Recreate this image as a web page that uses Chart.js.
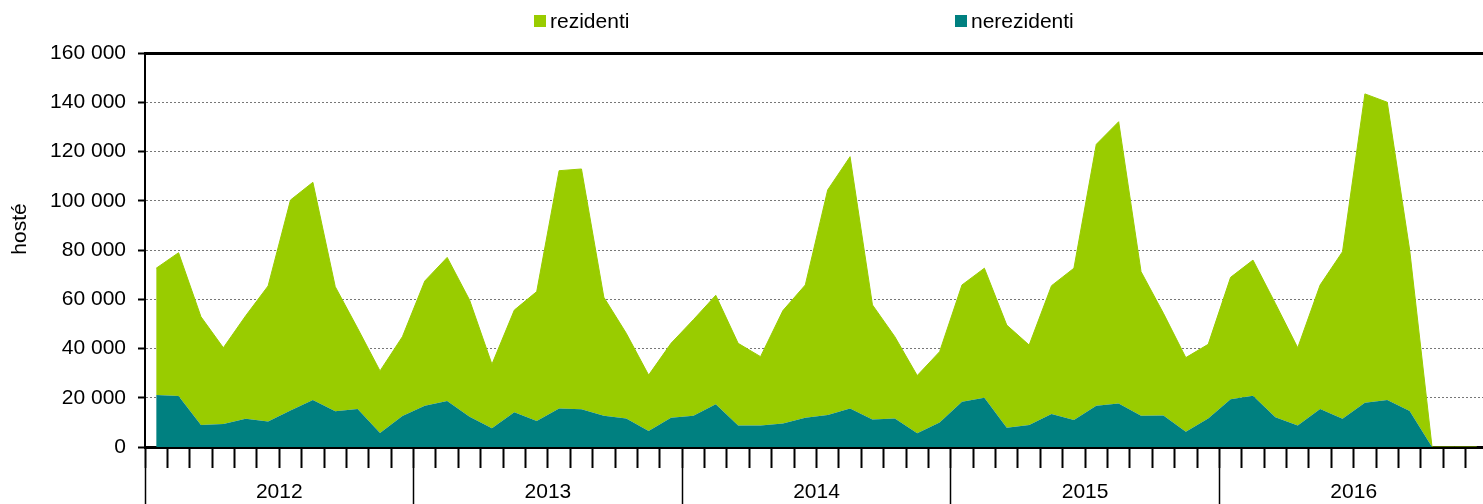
<!DOCTYPE html>
<html>
<head>
<meta charset="utf-8">
<script src="https://cdn.jsdelivr.net/npm/chart.js"></script>
<style>
  html, body { margin: 0; padding: 0; overflow: hidden; background: #fff; }
  #wrap { width: 1488px; height: 504px; }
</style>
</head>
<body>
<div id="wrap"><canvas id="myChart"></canvas></div>
<script>
// hosté podle měsíců, 2012-2016
const years = ['2012', '2013', '2014', '2015', '2016'];
const monthNames = ['1', '2', '3', '4', '5', '6', '7', '8', '9', '10', '11', '12'];

const rezidenti = [
  51500, 58200, 44000, 31000, 41800, 55000, 85500, 88400, 50600, 32800, 25200, 32200,
  50600, 58300, 47400, 26000, 41500, 52500, 96600, 97600, 48100, 34600, 22700, 30200,
  39000, 44200, 33400, 28000, 45900, 53900, 91400, 102300, 46500, 33200, 23400, 28700,
  47400, 52600, 41700, 32500, 52100, 61600, 106100, 114400, 58500, 41500, 30100, 30100,
  49500, 55100, 46200, 31600, 50400, 67800, 125400, 120900, 65400, 0, 0, 0
];
const nerezidenti = [
  21100, 20700, 8900, 9300, 11500, 10400, 14800, 19100, 14500, 15400, 5700, 12600,
  16800, 18700, 12300, 7600, 14100, 10600, 15600, 15300, 12700, 11600, 6500, 11900,
  12700, 17400, 8700, 8700, 9500, 11900, 13000, 15600, 11200, 11600, 5600, 10000,
  18400, 20000, 7800, 8900, 13400, 11000, 16800, 17700, 12700, 12800, 6200, 11600,
  19400, 20800, 12100, 8700, 15400, 11500, 18000, 19100, 14600, 0, 0, 0
];

const green = '#99CC00';
const teal = '#008080';
const fontFamily = '"Liberation Sans", Arial, sans-serif';

let months = [];
years.forEach(y => monthNames.forEach(m => months.push(m + '/' + y)));

function fmt(v) {
  return String(v).replace(/\B(?=(\d{3})+(?!\d))/g, ' ');
}

// legenda a popis osy y
const decor = {
  id: 'decor',
  afterDraw(chart) {
    const ctx = chart.ctx;
    ctx.save();
    ctx.font = '21px ' + fontFamily;
    ctx.fillStyle = '#000';
    ctx.textBaseline = 'middle';
    const spots = [534, 955];
    const order = chart.data.datasets.slice().reverse();
    order.forEach((ds, i) => {
      ctx.fillStyle = ds.backgroundColor;
      ctx.fillRect(spots[i], 15, 12, 12);
      ctx.fillStyle = '#000';
      ctx.textAlign = 'left';
      ctx.fillText(ds.label, spots[i] + 16, 22);
    });
    ctx.translate(20, 229);
    ctx.rotate(-Math.PI / 2);
    ctx.textAlign = 'center';
    ctx.fillText('hosté', 0, 0);
    ctx.restore();
  }
};

new Chart('myChart', {
  type: 'line',
  data: {
    labels: months,
    datasets: [
      { label: 'nerezidenti', data: nerezidenti, backgroundColor: teal, borderColor: teal, borderWidth: 0, fill: 'origin' },
      { label: 'rezidenti', data: rezidenti, backgroundColor: green, borderColor: green, borderWidth: 1, fill: '-1' }
    ]
  },
  options: {
    responsive: true,
    maintainAspectRatio: false,
    animation: false,
    layout: { padding: { top: 53, bottom: 0, left: 0, right: 0 } },
    elements: { point: { radius: 0, hoverRadius: 0 }, line: { tension: 0 } },
    plugins: { legend: { display: false }, tooltip: { enabled: false } },
    scales: {
      x: {
        type: 'category',
        position: 'bottom',
        offset: true,
        weight: 0,
        z: 1,
        grid: { offset: true, drawOnChartArea: false, tickLength: 21, tickWidth: 2, tickColor: '#000' },
        border: { display: true, color: '#000', width: 3 },
        ticks: { display: false, autoSkip: false }
      },
      xYears: {
        type: 'category',
        position: 'bottom',
        labels: years,
        offset: true,
        weight: 1,
        afterFit: s => { s.height = 36; },
        grid: { offset: true, drawOnChartArea: false, tickLength: 36, tickWidth: 1.5, tickColor: '#000' },
        border: { display: false },
        ticks: { autoSkip: false, maxRotation: 0, padding: -22, color: '#000', font: { family: fontFamily, size: 21, lineHeight: 1 } }
      },
      xTop: {
        type: 'category',
        position: 'top',
        grid: { display: false, drawTicks: false },
        border: { display: true, color: '#000', width: 3 },
        ticks: { display: false }
      },
      y: {
        stacked: true,
        min: 0,
        max: 160000,
        afterFit: s => { s.width = 145; },
        ticks: { stepSize: 20000, padding: 12, color: '#000', font: { family: fontFamily, size: 21 }, callback: v => fmt(v) },
        grid: { color: '#777', lineWidth: 1, tickColor: '#000', tickLength: 7, tickWidth: 2 },
        border: { display: true, color: '#000', width: 2, dash: [2, 2] }
      }
    }
  },
  plugins: [decor]
});
</script>
</body>
</html>
